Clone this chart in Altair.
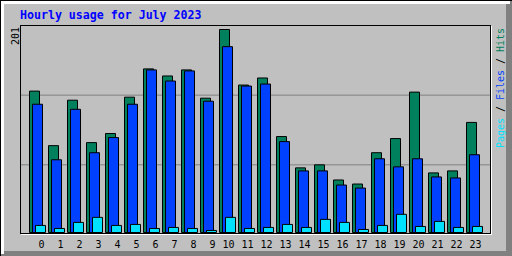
import altair as alt
import pandas as pd

hours = list(range(24))
hits = [140, 86, 131, 89, 98, 134, 162, 155, 161, 133, 201, 146, 153, 95, 64, 67, 52, 48, 79, 93, 139, 59, 61, 109]
files = [127, 72, 122, 79, 94, 127, 161, 150, 160, 130, 184, 145, 147, 90, 61, 61, 47, 44, 73, 65, 73, 55, 54, 77]
pages = [7, 4, 10, 15, 7, 8, 4, 5, 4, 2, 15, 4, 5, 8, 5, 13, 10, 3, 7, 18, 6, 11, 5, 6]
gridlines = [67, 136]
max_label = "201"
title_text = "Hourly usage for July 2023"
legend_parts = ["Pages", "/", "Files", "/", "Hits"]

HIT_C = "#00805C"
FILE_C = "#0040FF"
PAGE_C = "#00E0FF"
BG = "#C0C0C0"
MONO = "DejaVu Sans Mono"

df = pd.DataFrame({"hour": hours, "hits": hits, "files": files, "pages": pages,
                   "label": [str(h) for h in hours]})
one = pd.DataFrame({"a": [0]})

xs = alt.Scale(domain=[0, 23], range=[37.5, 474.5], nice=False, zero=False, padding=0)
ys = alt.Scale(domain=[0, 201], range=[232.5, 29.5], nice=False, padding=0)
X = alt.X("hour:Q", scale=xs, axis=None)


def rule(x1, x2, y1, y2, color):
    return alt.Chart(one).mark_rule(color=color, strokeWidth=1).encode(
        x=alt.value(x1), x2=alt.value(x2), y=alt.value(y1), y2=alt.value(y2))


def rect(x1, x2, y1, y2, color):
    return alt.Chart(one).mark_rect(color=color).encode(
        x=alt.value(x1), x2=alt.value(x2), y=alt.value(y1), y2=alt.value(y2))


def text(t, x, y, color, size, angle=0, bold=False, align="left", baseline="alphabetic"):
    kw = dict(color=color, fontSize=size, font=MONO, align=align, baseline=baseline,
              fontWeight="bold" if bold else "normal")
    if angle:
        kw["angle"] = angle
    return alt.Chart(one).mark_text(**kw).encode(
        x=alt.value(x), y=alt.value(y), text=alt.value(t))


grid = alt.Chart(pd.DataFrame({"g": gridlines})).mark_rule(color="#808080", strokeWidth=1).encode(
    y=alt.Y("g:Q", scale=ys, axis=None), x=alt.value(21), x2=alt.value(490))

bar_kw = dict(width=10, stroke="black", strokeWidth=1)
b_hits = alt.Chart(df).mark_bar(color=HIT_C, xOffset=-3, **bar_kw).encode(
    x=X, y=alt.Y("hits:Q", scale=ys, axis=None, stack=None))
b_files = alt.Chart(df).mark_bar(color=FILE_C, xOffset=0, **bar_kw).encode(
    x=X, y=alt.Y("files:Q", scale=ys, axis=None, stack=None))
b_pages = alt.Chart(df).mark_bar(color=PAGE_C, xOffset=3, **bar_kw).encode(
    x=X, y=alt.Y("pages:Q", scale=ys, axis=None, stack=None))

hour_labels = alt.Chart(df).mark_text(font=MONO, fontSize=10, color="black", align="right",
                                      baseline="alphabetic", dx=7).encode(
    x=X, y=alt.value(248), text="label:N")

layers = [
    # outer 3D border
    rect(506, 512, 0, 256, "#808080"),
    rect(0, 512, 251, 256, "#808080"),
    rect(1, 4, 1, 254, "white"),
    rect(1, 510, 1, 4, "white"),
    rule(0, 512, 0.5, 0.5, "black"),
    rule(0.5, 0.5, 0, 256, "black"),
    grid,
    b_hits, b_files, b_pages,
    # plot frame
    rule(20, 491, 25.5, 25.5, "black"),
    rule(20.5, 20.5, 25, 234, "black"),
    rule(490.5, 490.5, 25, 234, "black"),
    rule(20, 491, 233.5, 233.5, "black"),
    rule(491.5, 491.5, 26, 235, "white"),
    rule(21, 492, 234.5, 234.5, "white"),
    hour_labels,
    text(title_text, 20, 19, "#0000FF", 11.6, bold=True),
    text(max_label, 15.5, 45, "black", 10, angle=270, baseline="middle"),
    text(legend_parts[0], 501, 148, PAGE_C, 10, angle=270, baseline="middle"),
    text(legend_parts[1], 501, 112, "black", 10, angle=270, baseline="middle"),
    text(legend_parts[2], 501, 100, FILE_C, 10, angle=270, baseline="middle"),
    text(legend_parts[3], 501, 64, "black", 10, angle=270, baseline="middle"),
    text(legend_parts[4], 501, 52, HIT_C, 10, angle=270, baseline="middle"),
]

chart = alt.layer(*layers).properties(
    width=512, height=256, padding=0, autosize="none", background=BG
).configure_view(strokeWidth=0)

chart.save("out.html", embed_options={"renderer": "svg", "actions": False})
